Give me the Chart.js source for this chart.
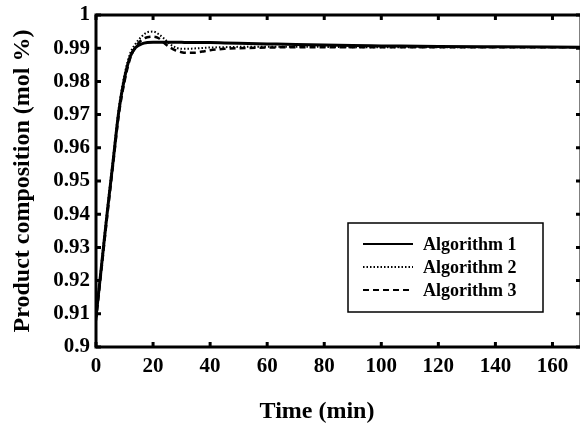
<!DOCTYPE html>
<html>
<head>
<meta charset="utf-8">
<script src="https://cdn.jsdelivr.net/npm/chart.js@4.4.0/dist/chart.umd.min.js"></script>
<style>
  html, body { margin: 0; padding: 0; background: #fff; overflow: hidden; }
  #wrap { width: 580px; height: 428px; overflow: hidden; }
</style>
</head>
<body>
<div id="wrap"><canvas id="chart" width="586" height="428"></canvas></div>
<script>
// data
const time = [0, 2, 4, 6, 8, 10, 12, 14, 16, 18, 20, 22, 24, 26, 28, 30, 32, 34, 36, 38, 40, 45, 50, 60, 70, 80, 90, 100, 120, 140, 170];
const alg1 = [0.909, 0.925, 0.941, 0.956, 0.971, 0.981, 0.9875, 0.9903, 0.9913, 0.9917, 0.9918, 0.9918, 0.9918, 0.9918, 0.9918, 0.9918, 0.9917, 0.9917, 0.9917, 0.9917, 0.9917, 0.9916, 0.9915, 0.9913, 0.9911, 0.991, 0.9908, 0.9907, 0.9905, 0.9904, 0.9903];
const alg2 = [0.909, 0.926, 0.942, 0.957, 0.972, 0.982, 0.9885, 0.9915, 0.9935, 0.9948, 0.995, 0.9942, 0.9928, 0.9912, 0.9902, 0.9898, 0.9898, 0.9899, 0.99, 0.9901, 0.9902, 0.9903, 0.9904, 0.9904, 0.9904, 0.9904, 0.9903, 0.9903, 0.9903, 0.9903, 0.9903];
const alg3 = [0.908, 0.924, 0.940, 0.955, 0.970, 0.980, 0.987, 0.9905, 0.9925, 0.9933, 0.9935, 0.993, 0.9915, 0.9902, 0.9893, 0.9888, 0.9886, 0.9886, 0.9888, 0.9891, 0.9894, 0.9898, 0.99, 0.9902, 0.9903, 0.9903, 0.9903, 0.9903, 0.9903, 0.9903, 0.9903];
const seriesNames = ['Algorithm 1', 'Algorithm 2', 'Algorithm 3'];
const xTicks = [0, 20, 40, 60, 80, 100, 120, 140, 160];
const yTicks = [0.9, 0.91, 0.92, 0.93, 0.94, 0.95, 0.96, 0.97, 0.98, 0.99, 1];

const FONT = 'Liberation Serif, Times New Roman, serif';

function pts(ys) {
    return time.map((t, i) => ({ x: t, y: ys[i] }));
}

// frame, inward ticks, x title and legend box
const framePlugin = {
    id: 'frame',
    afterDraw(chart) {
        const ctx = chart.ctx;
        const a = chart.chartArea;
        const xs = chart.scales.x, ys = chart.scales.y;
        ctx.save();
        ctx.strokeStyle = '#000';
        ctx.lineWidth = 3;
        ctx.strokeRect(a.left, a.top, a.right - a.left, a.bottom - a.top);
        ctx.beginPath();
        xTicks.forEach(v => {
            const px = xs.getPixelForValue(v);
            ctx.moveTo(px, a.bottom); ctx.lineTo(px, a.bottom - 5);
            ctx.moveTo(px, a.top); ctx.lineTo(px, a.top + 5);
        });
        yTicks.forEach(v => {
            const py = ys.getPixelForValue(v);
            ctx.moveTo(a.left, py); ctx.lineTo(a.left + 5, py);
            ctx.moveTo(a.right, py); ctx.lineTo(a.right - 5, py);
        });
        ctx.stroke();

        // x axis title
        ctx.fillStyle = '#000';
        ctx.font = 'bold 24px ' + FONT;
        ctx.textAlign = 'center';
        ctx.textBaseline = 'middle';
        ctx.fillText('Time (min)', 317, 412);

        // legend box
        const bx = 348, by = 223, bw = 195, bh = 89;
        ctx.fillStyle = '#fff';
        ctx.fillRect(bx, by, bw, bh);
        ctx.lineWidth = 1.5;
        ctx.strokeRect(bx, by, bw, bh);
        ctx.font = 'bold 18px ' + FONT;
        ctx.textAlign = 'left';
        chart.data.datasets.forEach((ds, i) => {
            const ly = by + 21 + i * 23;
            ctx.save();
            ctx.lineWidth = Math.min(ds.borderWidth, 2);
            ctx.setLineDash(ds.borderDash || []);
            ctx.beginPath();
            ctx.moveTo(bx + 15, ly);
            ctx.lineTo(bx + 65, ly);
            ctx.stroke();
            ctx.restore();
            ctx.fillStyle = '#000';
            ctx.fillText(ds.label, bx + 75, ly + 1);
        });
        ctx.restore();
    }
};

new Chart(document.getElementById('chart').getContext('2d'), {
    type: 'line',
    data: {
        datasets: [{
            label: seriesNames[0],
            data: pts(alg1),
            borderColor: '#000',
            borderWidth: 3,
            pointRadius: 0,
            cubicInterpolationMode: 'monotone'
        }, {
            label: seriesNames[1],
            data: pts(alg2),
            borderColor: '#000',
            borderWidth: 2,
            borderDash: [1.5, 2],
            pointRadius: 0,
            cubicInterpolationMode: 'monotone'
        }, {
            label: seriesNames[2],
            data: pts(alg3),
            borderColor: '#000',
            borderWidth: 2.5,
            borderDash: [6, 4],
            pointRadius: 0,
            cubicInterpolationMode: 'monotone'
        }]
    },
    options: {
        responsive: false,
        animation: false,
        layout: { padding: { top: 0, right: 5, left: 8, bottom: 0 } },
        scales: {
            x: {
                type: 'linear',
                min: 0,
                max: 170,
                afterBuildTicks: s => { s.ticks = xTicks.map(v => ({ value: v })); },
                afterFit: s => { s.height = 81; },
                grid: { display: false, drawTicks: false },
                border: { display: false },
                ticks: {
                    padding: 7,
                    color: '#000',
                    maxRotation: 0,
                    font: { family: FONT, size: 21, weight: 'bold' }
                }
            },
            y: {
                min: 0.9,
                max: 1,
                afterBuildTicks: s => { s.ticks = yTicks.map(v => ({ value: v })); },
                afterFit: s => { s.width = 88; s.paddingTop = 15; },
                grid: { display: false, drawTicks: false },
                border: { display: false },
                ticks: {
                    padding: 6,
                    color: '#000',
                    font: { family: FONT, size: 21, weight: 'bold' },
                    callback: v => String(+v.toFixed(2))
                },
                title: {
                    display: true,
                    text: 'Product composition (mol %)',
                    color: '#000',
                    padding: { top: 0, bottom: 0 },
                    font: { family: FONT, size: 24, weight: 'bold' }
                }
            }
        },
        plugins: {
            legend: { display: false },
            tooltip: { enabled: false }
        }
    },
    plugins: [framePlugin]
});
</script>
</body>
</html>
